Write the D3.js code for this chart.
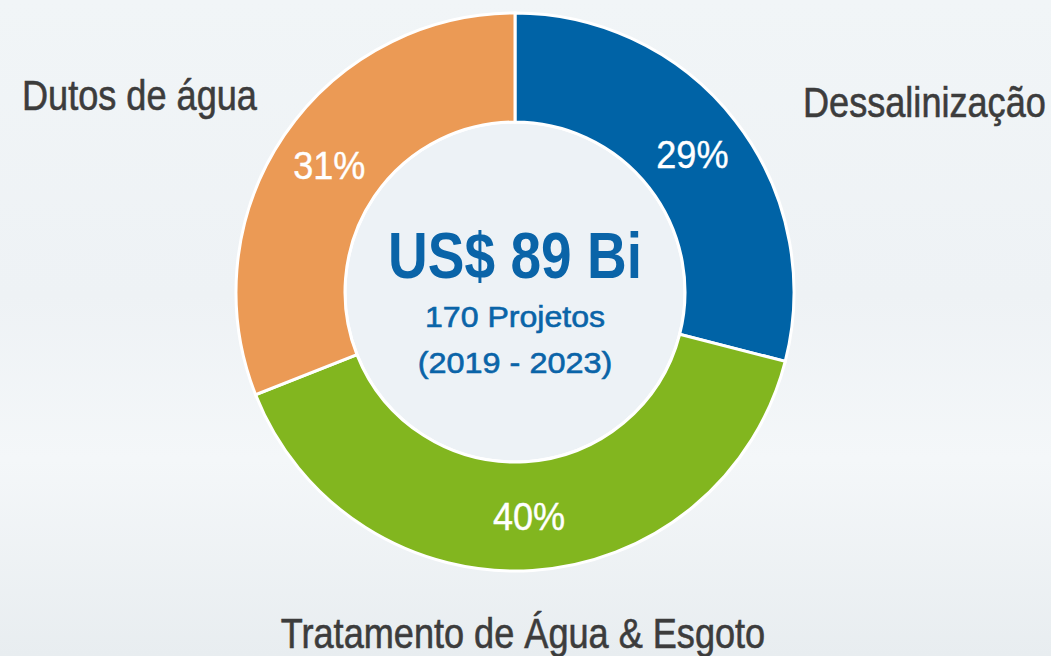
<!DOCTYPE html>
<html>
<head>
<meta charset="utf-8">
<script src="https://cdn.jsdelivr.net/npm/d3@7"></script>
<style>
  body { margin: 0; overflow: hidden; }
</style>
</head>
<body>
<div id="chart"></div>
<script>
var segments = ["Dessalinização", "Tratamento de Água & Esgoto", "Dutos de água"];
var shares = [29, 40, 31];
var colors = ["#0063a6", "#82b61f", "#eb9a55"];
var centerLines = ["US$ 89 Bi", "170 Projetos", "(2019 - 2023)"];

var w = 1051;
var h = 656;
var cx = 515, cy = 292;
var outerRadius = 279;
var innerRadius = 170;
var fontFam = "'Liberation Sans', Arial, sans-serif";
// no condensed face installed, so squeeze text horizontally
var narrow = 0.86;

var svg = d3.select("#chart").append("svg")
    .attr("width", w)
    .attr("height", h);

// background
var defs = svg.append("defs");
var bg = defs.append("linearGradient").attr("id", "bg")
    .attr("x1", 0).attr("y1", 0).attr("x2", 0).attr("y2", 1);
bg.append("stop").attr("offset", "0%").attr("stop-color", "#f1f5f7");
bg.append("stop").attr("offset", "45%").attr("stop-color", "#eef2f5");
bg.append("stop").attr("offset", "70%").attr("stop-color", "#f4f7f9");
bg.append("stop").attr("offset", "100%").attr("stop-color", "#e8edf0");
svg.append("rect").attr("width", w).attr("height", h).attr("fill", "url(#bg)");

var pie = d3.pie().sort(null).value(function(d) { return d; });
var arc = d3.arc().innerRadius(innerRadius).outerRadius(outerRadius);

var g = svg.append("g").attr("transform", "translate(" + cx + "," + cy + ")");

// inner disk
g.append("circle")
    .attr("r", innerRadius)
    .attr("fill", "#edf2f6")
    .attr("stroke", "#ffffff")
    .attr("stroke-width", 3);

var arcs = g.selectAll("g.arc")
    .data(pie(shares))
    .enter()
    .append("g")
    .attr("class", "arc");

arcs.append("path")
    .attr("d", arc)
    .attr("fill", function(d, i) { return colors[i]; })
    .attr("stroke", "#ffffff")
    .attr("stroke-width", 3);

arcs.append("text")
    .attr("transform", function(d) {
        var c = arc.centroid(d);
        return "translate(" + c[0] + "," + c[1] + ") scale(0.95,1)";
    })
    .attr("dy", "0.36em")
    .attr("text-anchor", "middle")
    .attr("font-family", fontFam)
    .attr("font-size", "38px")
    .attr("fill", "#ffffff")
    .attr("stroke", "#ffffff")
    .attr("stroke-width", 0.4)
    .text(function(d) { return d.value + "%"; });

// center text
var centerStyle = [
    { y: -14, size: 64, weight: "bold", sx: narrow, sw: 0 },
    { y: 35, size: 30, weight: "normal", sx: 1.07, sw: 0.6 },
    { y: 81, size: 30, weight: "normal", sx: 1.08, sw: 0.6 }
];
g.selectAll("text.center")
    .data(centerLines)
    .enter()
    .append("text")
    .attr("class", "center")
    .attr("transform", function(d, i) {
        return "translate(0," + centerStyle[i].y + ") scale(" + centerStyle[i].sx + ",1)";
    })
    .attr("text-anchor", "middle")
    .attr("font-family", fontFam)
    .attr("font-weight", function(d, i) { return centerStyle[i].weight; })
    .attr("font-size", function(d, i) { return centerStyle[i].size + "px"; })
    .attr("fill", "#0a64a8")
    .attr("stroke", "#0a64a8")
    .attr("stroke-width", function(d, i) { return centerStyle[i].sw; })
    .text(function(d) { return d; });

// outside labels
var labelPos = [
    { x: 803, y: 117, anchor: "start" },
    { x: 523, y: 648, anchor: "middle" },
    { x: 22, y: 110, anchor: "start" }
];
svg.selectAll("text.label")
    .data(segments)
    .enter()
    .append("text")
    .attr("class", "label")
    .attr("transform", function(d, i) {
        return "translate(" + labelPos[i].x + "," + labelPos[i].y + ") scale(" + narrow + ",1)";
    })
    .attr("text-anchor", function(d, i) { return labelPos[i].anchor; })
    .attr("font-family", fontFam)
    .attr("font-size", "42px")
    .attr("fill", "#3c3c3c")
    .attr("stroke", "#3c3c3c")
    .attr("stroke-width", 0.6)
    .text(function(d) { return d; });
</script>
</body>
</html>
